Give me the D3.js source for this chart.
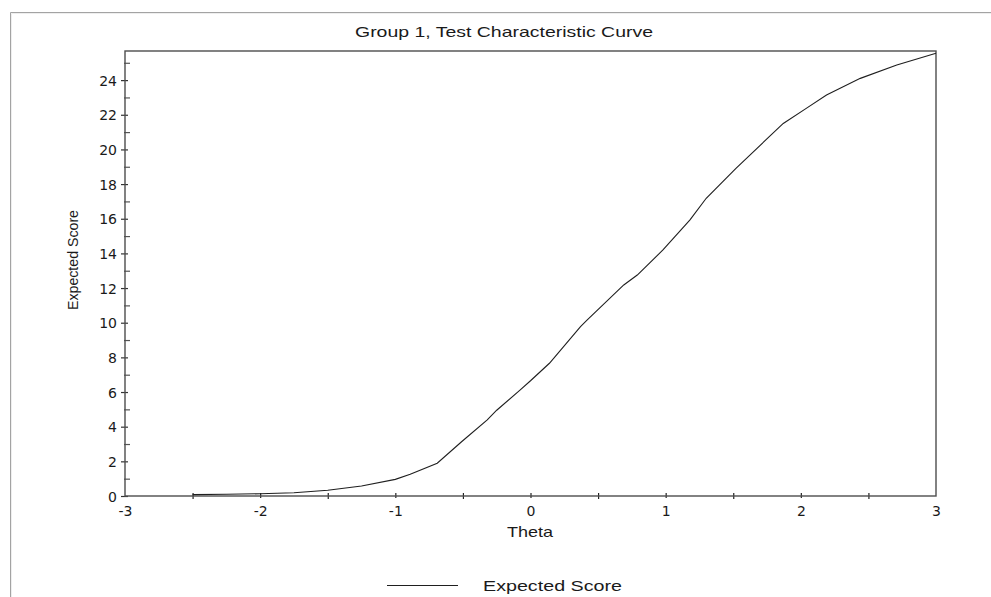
<!DOCTYPE html>
<html>
<head>
<meta charset="utf-8">
<script src="https://cdn.jsdelivr.net/npm/d3@7"></script>
<style>
  body { margin: 0; background: #fff; }
  text { font-family: "DejaVu Sans", sans-serif; fill: #1a1a1a; }
  .lbl { font-family: "Liberation Sans", Arial, sans-serif; }
</style>
</head>
<body>
<div id="chart"></div>
<script>
var w = 991, h = 597;

// theta and expected score
var theta = [-2.5, -2.25, -2.0, -1.75, -1.5, -1.25, -1.0, -0.89, -0.69, -0.51, -0.32, -0.25,
             -0.08, 0.0, 0.14, 0.37, 0.42, 0.69, 0.79, 0.98, 1.18, 1.30, 1.52, 1.87, 2.04,
             2.19, 2.44, 2.71, 3.0];
var score = [0.08, 0.10, 0.13, 0.19, 0.33, 0.58, 0.96, 1.25, 1.89, 3.13, 4.39, 4.95,
             6.1, 6.65, 7.66, 9.77, 10.16, 12.18, 12.75, 14.2, 15.93, 17.18, 18.91, 21.5, 22.37,
             23.14, 24.1, 24.87, 25.55];

var xMajor = [-3, -2, -1, 0, 1, 2, 3];
var xMinor = [-2.5, -1.5, -0.5, 0.5, 1.5, 2.5];
var yMajor = [0, 2, 4, 6, 8, 10, 12, 14, 16, 18, 20, 22, 24];
var yMinor = [1, 3, 5, 7, 9, 11, 13, 15, 17, 19, 21, 23, 25];

var pLeft = 125, pRight = 936, pTop = 51, pBottom = 496;

var svg = d3.select("#chart")
    .append("svg")
    .attr("width", w)
    .attr("height", h);

// outer panel border (top and left only)
svg.append("path")
    .attr("d", "M11.5,597V13.5H991")
    .attr("fill", "none")
    .attr("stroke", "#eeeeee")
    .attr("stroke-width", 1);
svg.append("path")
    .attr("d", "M10.5,597V12.5H991")
    .attr("fill", "none")
    .attr("stroke", "#a3a3a3")
    .attr("stroke-width", 1);

var x = d3.scaleLinear()
    .domain([-3, 3])
    .range([pLeft, pRight]);

var y = d3.scaleLinear()
    .domain([0, 25.68])
    .range([pBottom, pTop]);

var fmt = function(d) { return String(d); };

// y axis, labelled ticks crossing the axis
var yAxis = svg.append("g")
    .attr("transform", "translate(" + pLeft + ",0)")
    .call(d3.axisLeft(y).tickValues(yMajor).tickSize(4).tickPadding(4).tickFormat(fmt));
yAxis.select(".domain").remove();
yAxis.selectAll("line").attr("x1", 3).attr("stroke", "#333").attr("stroke-width", 1.2);
yAxis.selectAll("text").style("font-size", "14px").attr("dy", "0.36em");

var yMin = svg.append("g")
    .attr("transform", "translate(" + pLeft + ",0)")
    .call(d3.axisRight(y).tickValues(yMinor).tickSize(5).tickFormat(""));
yMin.select(".domain").remove();
yMin.selectAll("line").attr("x1", -1).attr("stroke", "#555").attr("stroke-width", 1.2);

// x axis
var xAxis = svg.append("g")
    .attr("transform", "translate(0," + pBottom + ")")
    .call(d3.axisBottom(x).tickValues(xMajor).tickSize(2).tickPadding(8).tickFormat(fmt));
xAxis.select(".domain").remove();
xAxis.selectAll("line").attr("y1", -3).attr("stroke", "#222").attr("stroke-width", 1.2);
xAxis.selectAll("text").style("font-size", "14px");
xAxis.selectAll(".tick").filter(function(d) { return d === -3 || d === 3; }).select("line").remove();

var xMin = svg.append("g")
    .attr("transform", "translate(0," + pBottom + ")")
    .call(d3.axisBottom(x).tickValues(xMinor).tickSize(3).tickFormat(""));
xMin.select(".domain").remove();
xMin.selectAll("line").attr("y1", -3).attr("stroke", "#222").attr("stroke-width", 1.2);

// plot frame
svg.append("rect")
    .attr("x", pLeft)
    .attr("y", pTop)
    .attr("width", pRight - pLeft)
    .attr("height", pBottom - pTop)
    .attr("fill", "none")
    .attr("stroke", "#4d4d4d")
    .attr("stroke-width", 1.4);

// curve
var pts = theta.map(function(t, i) { return [t, score[i]]; });
var line = d3.line()
    .x(function(d) { return x(d[0]); })
    .y(function(d) { return y(d[1]); });

svg.append("path")
    .datum(pts)
    .attr("d", line)
    .attr("fill", "none")
    .attr("stroke", "#1f1f1f")
    .attr("stroke-width", 1.1);

// titles
svg.append("text")
    .attr("class", "lbl")
    .attr("x", 504)
    .attr("y", 37)
    .attr("text-anchor", "middle")
    .attr("textLength", 298)
    .attr("lengthAdjust", "spacingAndGlyphs")
    .style("font-size", "15px")
    .text("Group 1, Test Characteristic Curve");

svg.append("text")
    .attr("class", "lbl")
    .attr("x", 530)
    .attr("y", 537)
    .attr("text-anchor", "middle")
    .attr("textLength", 46)
    .attr("lengthAdjust", "spacingAndGlyphs")
    .style("font-size", "15px")
    .text("Theta");

svg.append("text")
    .attr("class", "lbl")
    .attr("transform", "translate(78,260) rotate(-90)")
    .attr("text-anchor", "middle")
    .attr("textLength", 100)
    .attr("lengthAdjust", "spacingAndGlyphs")
    .style("font-size", "14px")
    .text("Expected Score");

// legend
svg.append("line")
    .attr("x1", 387)
    .attr("x2", 458)
    .attr("y1", 585.5)
    .attr("y2", 585.5)
    .attr("stroke", "#1f1f1f")
    .attr("stroke-width", 1.1);

svg.append("text")
    .attr("class", "lbl")
    .attr("x", 483)
    .attr("y", 591)
    .attr("textLength", 139)
    .attr("lengthAdjust", "spacingAndGlyphs")
    .style("font-size", "15px")
    .text("Expected Score");
</script>
</body>
</html>
